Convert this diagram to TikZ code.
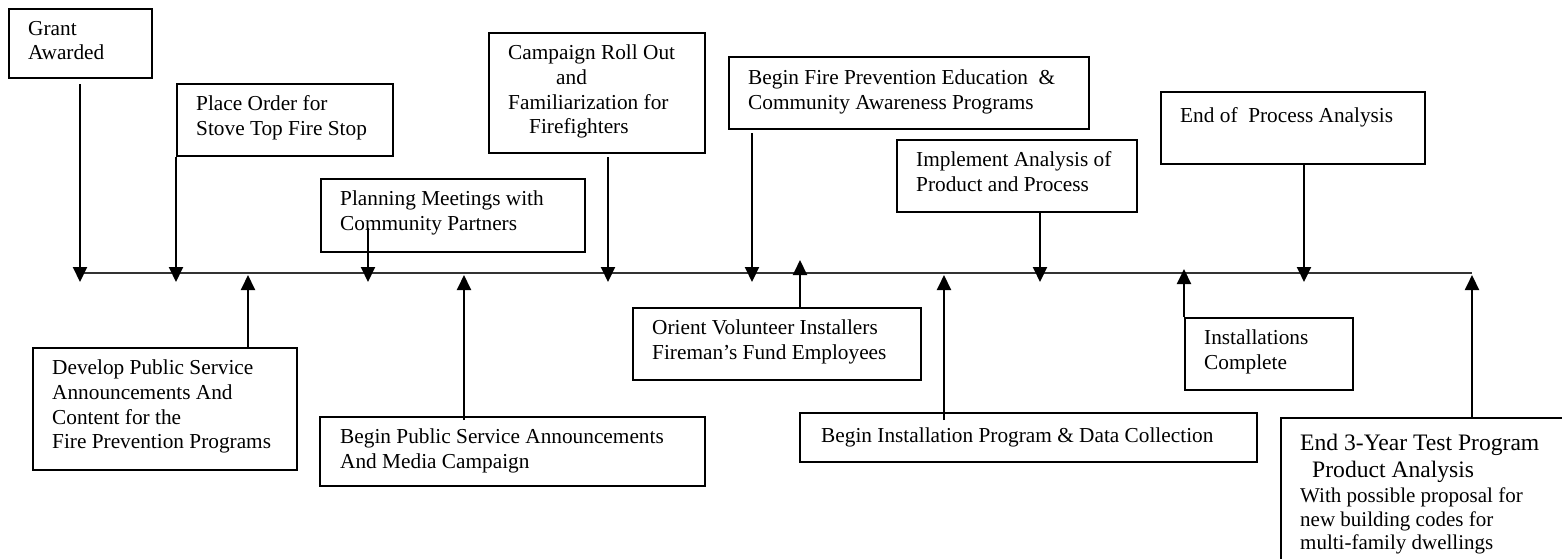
\documentclass[tikz,border=0pt]{standalone}
\usepackage{fontspec}
\setmainfont{Liberation Serif}
\usetikzlibrary{arrows.meta,calc}
\tikzset{
  box/.style={draw, line width=2pt, inner sep=0pt, anchor=north west},
  txt/.style={anchor=north west, inner sep=0pt, align=left, yshift=17.29pt,
    font=\fontsize{21.3}{24.7}\selectfont, execute at begin node=\strut},
  arr/.style={line width=2pt, -{Triangle[width=14pt,length=15pt]}},
  tline/.style={line width=2.2pt, draw=black!80},
}
\begin{document}
\begin{tikzpicture}[x=1pt,y=-1pt]
\useasboundingbox (0,0) rectangle (1562,558);
\clip (0,0) rectangle (1562,558);

% timeline
\coordinate (t0) at (80,273);
\coordinate (t1) at (1472,273);
\draw[tline] (t0) -- (t1);

% upper boxes
\node[box, minimum width=143pt, minimum height=69pt] (grant) at (8,8) {};
\node[txt] (grantT) at (28,38) {Grant\\Awarded};

\node[box, minimum width=216pt, minimum height=72pt] (place) at (176,83) {};
\node[txt] (placeT) at (196,113) {Place Order for\\Stove Top Fire Stop};

\node[box, minimum width=264pt, minimum height=73pt] (plan) at (320,178) {};
\node[txt] (planT) at (340,208) {Planning Meetings with\\Community Partners};

\node[box, minimum width=216pt, minimum height=120pt] (camp) at (488,32) {};
\node[txt] (campT) at (508,62) {Campaign Roll Out\\\hspace*{48pt}and\\Familiarization for\\\hspace*{21pt}Firefighters};

\node[box, minimum width=360pt, minimum height=72pt] (fpe) at (728,56) {};
\node[txt] (fpeT) at (748,87) {Begin Fire Prevention Education \ \&\\Community Awareness Programs};

\node[box, minimum width=240pt, minimum height=72pt] (impl) at (896,139) {};
\node[txt] (implT) at (916,169) {Implement Analysis of\\Product and Process};

\node[box, minimum width=264pt, minimum height=72pt] (eop) at (1160,91) {};
\node[txt] (eopT) at (1180,122) {End of \ Process Analysis};

% lower boxes
\node[box, minimum width=264pt, minimum height=122pt] (dev) at (32,347) {};
\node[txt] (devT) at (52,377) {Develop Public Service\\Announcements And\\Content for the\\Fire Prevention Programs};

\node[box, minimum width=385pt, minimum height=69pt] (bpsa) at (319,416) {};
\node[txt] (bpsaT) at (340,446) {Begin Public Service Announcements\\And Media Campaign};

\node[box, minimum width=288pt, minimum height=72pt] (orient) at (632,307) {};
\node[txt] (orientT) at (652,337) {Orient Volunteer Installers\\Fireman’s Fund Employees};

\node[box, minimum width=457pt, minimum height=49pt] (binst) at (799,412) {};
\node[txt] (binstT) at (821,442) {Begin Installation Program \& Data Collection};

\node[box, minimum width=168pt, minimum height=72pt] (instc) at (1184,317) {};
\node[txt] (instcT) at (1204,347) {Installations\\Complete};

\node[box, minimum width=320pt, minimum height=200pt] (end3) at (1280,417) {};
\node[anchor=base west, inner sep=0pt, font=\fontsize{23.6}{27}\selectfont] (end3T) at (1300,450) {End 3-Year Test Program};
\node[anchor=base west, inner sep=0pt, font=\fontsize{23.6}{27}\selectfont] (end3U) at (1312,477) {Product Analysis};
\node[txt, font=\fontsize{21}{23.5}\selectfont, yshift=-0.84pt] (end3S) at (1300,504) {With possible proposal for\\new building codes for\\multi-family dwellings};

% down arrows
\coordinate (d1) at (80,282);
\coordinate (d2) at (176,282);
\coordinate (d3) at (368,282);
\coordinate (d4) at (608,282);
\coordinate (d5) at (752,282);
\coordinate (d6) at (1040,282);
\coordinate (d7) at (1304,282);
\draw[arr] ($(grant.south -| d1)+(0,5)$) -- (d1);
\draw[arr] (place.south -| d2) -- (d2);
\draw[arr] ($(plan.south -| d3)+(0,-25)$) -- (d3);
\draw[arr] ($(camp.south -| d4)+(0,3)$) -- (d4);
\draw[arr] ($(fpe.south -| d5)+(0,3)$) -- (d5);
\draw[arr] (impl.south -| d6) -- (d6);
\draw[arr] (eop.south -| d7) -- (d7);

% up arrows
\coordinate (u1) at (248,275);
\coordinate (u2) at (464,275);
\coordinate (u3) at (800,260);
\coordinate (u4) at (944,275);
\coordinate (u5) at (1184,269);
\coordinate (u6) at (1472,275);
\draw[arr] (dev.north -| u1) -- (u1);
\draw[arr] ($(bpsa.north -| u2)+(0,4)$) -- (u2);
\draw[arr] (orient.north -| u3) -- (u3);
\draw[arr] ($(binst.north -| u4)+(0,8)$) -- (u4);
\draw[arr] (instc.north -| u5) -- (u5);
\draw[arr] (end3.north -| u6) -- (u6);
\end{tikzpicture}
\end{document}
